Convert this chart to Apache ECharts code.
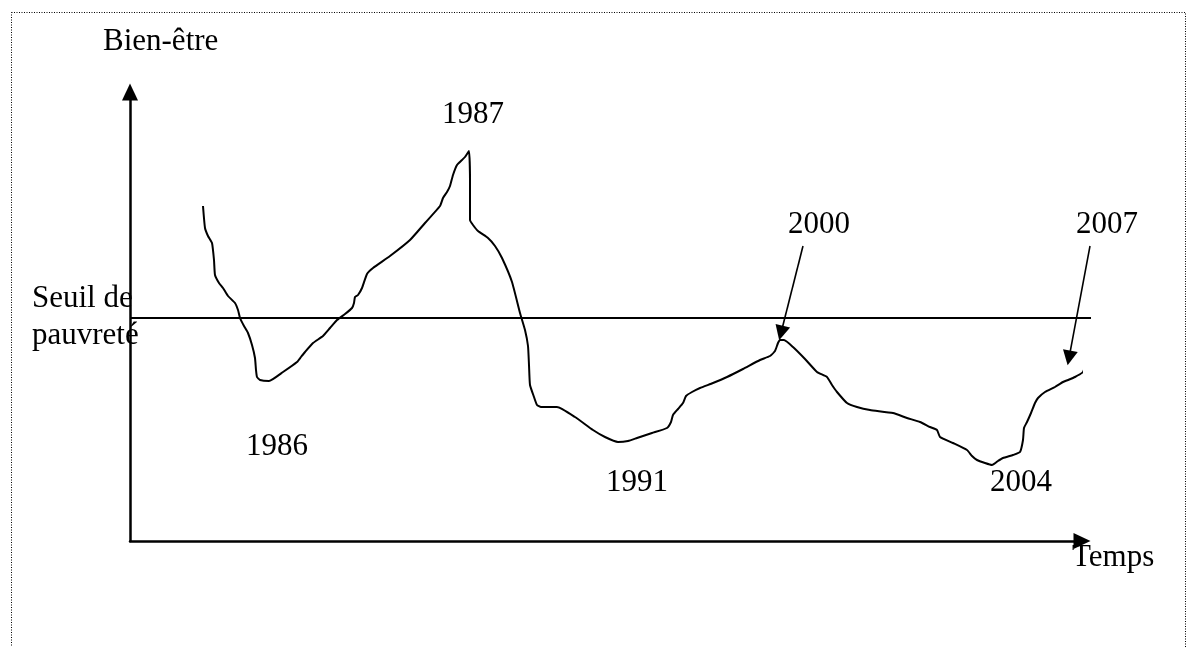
<!DOCTYPE html>
<html>
<head>
<meta charset="utf-8">
<script src="https://cdn.jsdelivr.net/npm/echarts/dist/echarts.min.js"></script>
<style>
  html, body { margin: 0; padding: 0; background: #fff; }
  #chart { width: 1190px; height: 647px; }
</style>
</head>
<body>
<div id="chart"></div>
<script>
// courbe du bien-être (unités arbitraires : x = temps, y = bien-être)
var curveX = [73, 75, 78, 82, 84, 85, 89, 93, 98, 105, 108, 110, 114, 118, 122, 125, 126, 127, 130, 139,
  153, 167, 171, 175, 183, 193, 200, 207, 215, 222, 224, 225, 228, 232, 237, 243, 260, 280, 295, 310,
  313, 317, 320, 323, 327, 332, 335, 339, 340, 340, 343, 348, 358, 365, 372, 382, 390, 395, 398, 399,
  400, 404, 407, 411, 427, 445, 463, 475, 488, 498, 507, 522, 537, 541, 543, 548, 553, 556, 562, 570,
  583, 597, 613, 630, 640, 645, 648, 650, 654, 663, 675, 687, 697, 702, 707, 717, 727, 740, 763, 777,
  790, 800, 807, 810, 823, 837, 842, 847, 855, 862, 868, 873, 883, 890, 893, 894, 897, 901, 905, 908,
  915, 925, 933, 938, 945, 953, 956];
var curveY = [335, 313, 305, 298, 281, 266, 258, 253, 245, 238, 231, 223, 215, 208, 196, 183, 171, 164, 161, 160,
  169, 179, 184, 189, 198, 205, 213, 221, 227, 233, 238, 244, 246, 253, 267, 273, 285, 301, 318, 335,
  343, 349, 355, 366, 376, 381, 384, 390, 361, 321, 316, 310, 303, 295, 283, 259, 228, 211, 195, 176,
  156, 144, 136, 134, 134, 124, 111, 104, 99, 100, 103, 108, 113, 119, 126, 132, 138, 145, 149, 153,
  158, 164, 172, 181, 185, 190, 198, 201, 201, 194, 182, 169, 164, 156, 149, 138, 134, 131, 128, 123,
  119, 114, 111, 104, 98, 91, 85, 81, 78, 76, 80, 83, 86, 89, 101, 113, 119, 128, 138, 143,
  149, 154, 159, 161, 164, 169, 178];

var seuil = 223;            // seuil de pauvreté
var seuilRange = [0, 961];
var xMax = 952, yMax = 449;

// flèches d'annotation : [départ x, départ y, arrivée x, arrivée y]
var arrow2000 = [673, 295, 651, 208];
var arrow2007 = [960, 295, 939, 183];

var curve = curveX.map(function (x, i) { return [x, curveY[i]]; });

var FONT = '"Liberation Serif", "DejaVu Serif", serif';
function label(text, x, y, align) {
  return {
    type: 'text', x: x, y: y, silent: true,
    style: { text: text, font: '31px ' + FONT, fill: '#000', align: align || 'center', verticalAlign: 'middle' }
  };
}

var chart = echarts.init(document.getElementById('chart'));
var option = {
  animation: false,
  backgroundColor: '#fff',
  grid: { left: 130, right: 108, top: 92, bottom: 106 },
  xAxis: {
    type: 'value', min: 0, max: xMax,
    axisLine: { show: true, onZero: false, symbol: ['none', 'triangle'], symbolSize: [16, 17],
      lineStyle: { color: '#000', width: 2.5 } },
    axisTick: { show: false }, axisLabel: { show: false }, splitLine: { show: false }
  },
  yAxis: {
    type: 'value', min: 0, max: yMax,
    axisLine: { show: true, onZero: false, symbol: ['none', 'triangle'], symbolSize: [16, 17],
      lineStyle: { color: '#000', width: 2.5 } },
    axisTick: { show: false }, axisLabel: { show: false }, splitLine: { show: false }
  },
  series: [{
    type: 'line',
    data: curve,
    showSymbol: false,
    smooth: 0.15,
    clip: false,
    silent: true,
    lineStyle: { color: '#000', width: 2 }
  }, {
    // seuil de pauvreté
    type: 'lines',
    coordinateSystem: 'cartesian2d',
    clip: false,
    silent: true,
    symbol: 'none',
    lineStyle: { color: '#000', width: 1.8, opacity: 1 },
    data: [{ coords: [[seuilRange[0], seuil], [seuilRange[1], seuil]] }]
  }, {
    // flèches 2000 et 2007
    type: 'lines',
    coordinateSystem: 'cartesian2d',
    clip: false,
    silent: true,
    symbol: ['none', 'triangle'],
    symbolSize: 15,
    lineStyle: { color: '#000', width: 1.6, opacity: 1 },
    data: [
      { coords: [[arrow2000[0], arrow2000[1]], [arrow2000[2], arrow2000[3]]] },
      { coords: [[arrow2007[0], arrow2007[1]], [arrow2007[2], arrow2007[3]]] }
    ]
  }],
  graphic: [
    { type: 'rect', silent: true, shape: { x: 11.5, y: 12.5, width: 1174, height: 700 },
      style: { fill: 'none', stroke: '#000', lineWidth: 1, lineDash: [1, 1.5] } },
    label('Bien-être', 103, 41.5, 'left'),
    label('1987', 473, 114.5),
    label('2000', 819, 224.5),
    label('2007', 1107, 224.5),
    label('1986', 277, 446.5),
    label('1991', 637, 482.5),
    label('2004', 1021, 482.5),
    label('Seuil de', 32, 298.5, 'left'),
    label('pauvreté', 32, 335.5, 'left'),
    label('Temps', 1072, 557.5, 'left')
  ]
};
chart.setOption(option);
</script>
</body>
</html>
